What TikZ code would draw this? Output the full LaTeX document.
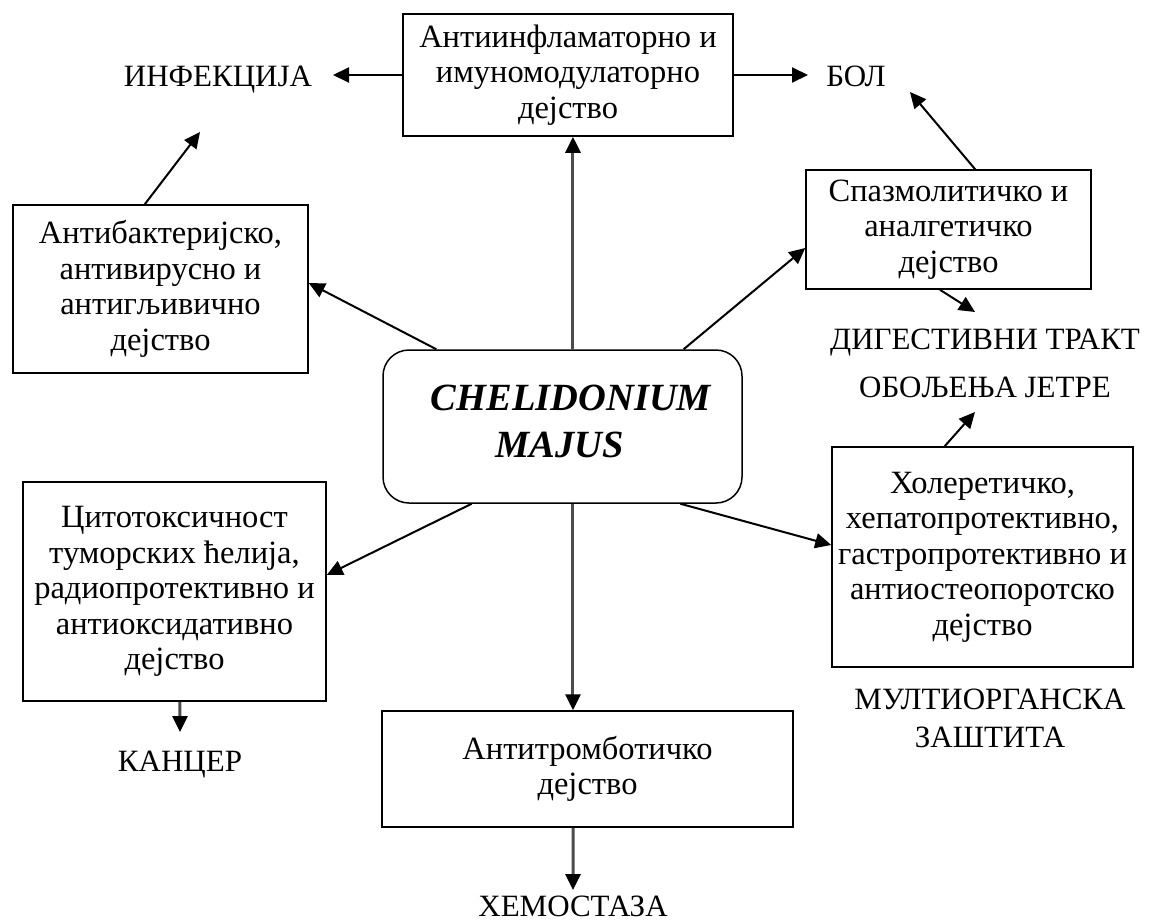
\documentclass[tikz,border=0pt]{standalone}
\usepackage{fontspec}
\setmainfont{Liberation Serif}
\usetikzlibrary{arrows.meta,calc}
\begin{document}
\begin{tikzpicture}[x=1pt,y=-1pt,
  box/.style={draw=black,line width=1.5pt,align=center,inner sep=0pt,
    font=\fontsize{32.5}{35.5}\selectfont},
  lbl/.style={align=center,inner sep=0pt,font=\fontsize{31}{38}\selectfont},
  arr/.style={line width=2pt,-{Triangle[length=16pt,width=15pt]}},
  garr/.style={line width=3pt,draw=black!70,-{Triangle[length=16pt,width=15pt,fill=black,color=black]}}]
\useasboundingbox (0,0) rectangle (1154,921);
% boxes
\node[box,minimum width=330pt,minimum height=122pt] (top) at (568,75)
  {Антиинфламаторно и\\имуномодулаторно\\дејство};
\node[box,minimum width=295pt,minimum height=168pt] (ab) at (160.5,289)
  {Антибактеријско,\\антивирусно и\\антигљивично\\дејство};
\node[box,minimum width=285pt,minimum height=119pt] (sp) at (948.5,229.5)
  {Спазмолитичко и\\аналгетичко\\дејство};
\node[box,minimum width=303pt,minimum height=219pt] (cy) at (174.5,591.5)
  {Цитотоксичност\\туморских ћелија,\\радиопротективно и\\антиоксидативно\\дејство};
\node[box,minimum width=301pt,minimum height=220pt] (ho) at (982.5,557)
  {Холеретичко,\\хепатопротективно,\\гастропротективно и\\антиостеопоротско\\дејство};
\node[box,minimum width=411pt,minimum height=116pt] (bot) at (587.5,769)
  {Антитромботичко\\дејство};
\node[draw=black,line width=1.5pt,rounded corners=26pt,minimum width=359pt,
  minimum height=153pt,inner sep=0pt] (c) at (562.5,426.5) {};
\node[align=center,inner sep=0pt,font=\fontsize{38.5}{47}\selectfont\bfseries\itshape]
  (ct) at (571,421) {CHELIDONIUM\\MAJUS\hspace*{0.6em}};
% labels
\node[lbl] (inf) at (218,80) {ИНФЕКЦИЈА};
\node[lbl] (bol) at (856,76) {БОЛ};
\node[lbl] (dig) at (985,343) {ДИГЕСТИВНИ ТРАКТ};
\node[lbl] (ob) at (985,387) {ОБОЉЕЊА ЈЕТРЕ};
\node[lbl] (mo) at (990,718) {МУЛТИОРГАНСКА\\ЗАШТИТА};
\node[lbl] (kan) at (180,765) {КАНЦЕР};
\node[lbl] (hem) at (573,906) {ХЕМОСТАЗА};
% arrow tips
\coordinate (t1) at (333,75);
\coordinate (t2) at (808,75);
\coordinate (t3) at (200,132);
\coordinate (t4) at (910,92);
\coordinate (t5) at (975,312);
\coordinate (t6) at (975,412);
\coordinate (t13) at (180,732);
\coordinate (t14) at (573,890);
% start points
\coordinate (c7) at ($(c.north west)!0.529!(c.north east)$);
\coordinate (c8) at ($(c.south west)!0.529!(c.south east)$);
\coordinate (c9) at ($(c.north west)!0.150!(c.north east)$);
\coordinate (c10) at ($(c.north west)!0.836!(c.north east)$);
\coordinate (c11) at ($(c.south west)!0.248!(c.south east)$);
\coordinate (c12) at ($(c.south west)!0.827!(c.south east)$);
% connectors
\draw[arr] (top.west) -- (t1);
\draw[arr] (top.east) -- (t2);
\draw[arr] ($(ab.north west)!0.447!(ab.north east)$) -- (t3);
\draw[arr] ($(sp.north west)!0.593!(sp.north east)$) -- (t4);
\draw[arr] ($(sp.south west)!0.47!(sp.south east)$) -- (t5);
\draw[arr] ($(ho.north west)!0.375!(ho.north east)$) -- (t6);
\draw[garr] (c7) -- (c7 |- top.south);
\draw[garr] (c8) -- (c8 |- bot.north);
\draw[arr] (c9) -- ([yshift=6pt]ab.east);
\draw[arr] (c10) -- ([yshift=-18.5pt]sp.west);
\draw[arr] (c11) -- ([yshift=16.5pt]cy.east);
\draw[arr] (c12) -- ([yshift=12pt]ho.west);
\draw[garr] ($(cy.south west)!0.518!(cy.south east)$) -- (t13);
\draw[garr] ($(bot.south west)!0.465!(bot.south east)$) -- (t14);
\end{tikzpicture}
\end{document}
